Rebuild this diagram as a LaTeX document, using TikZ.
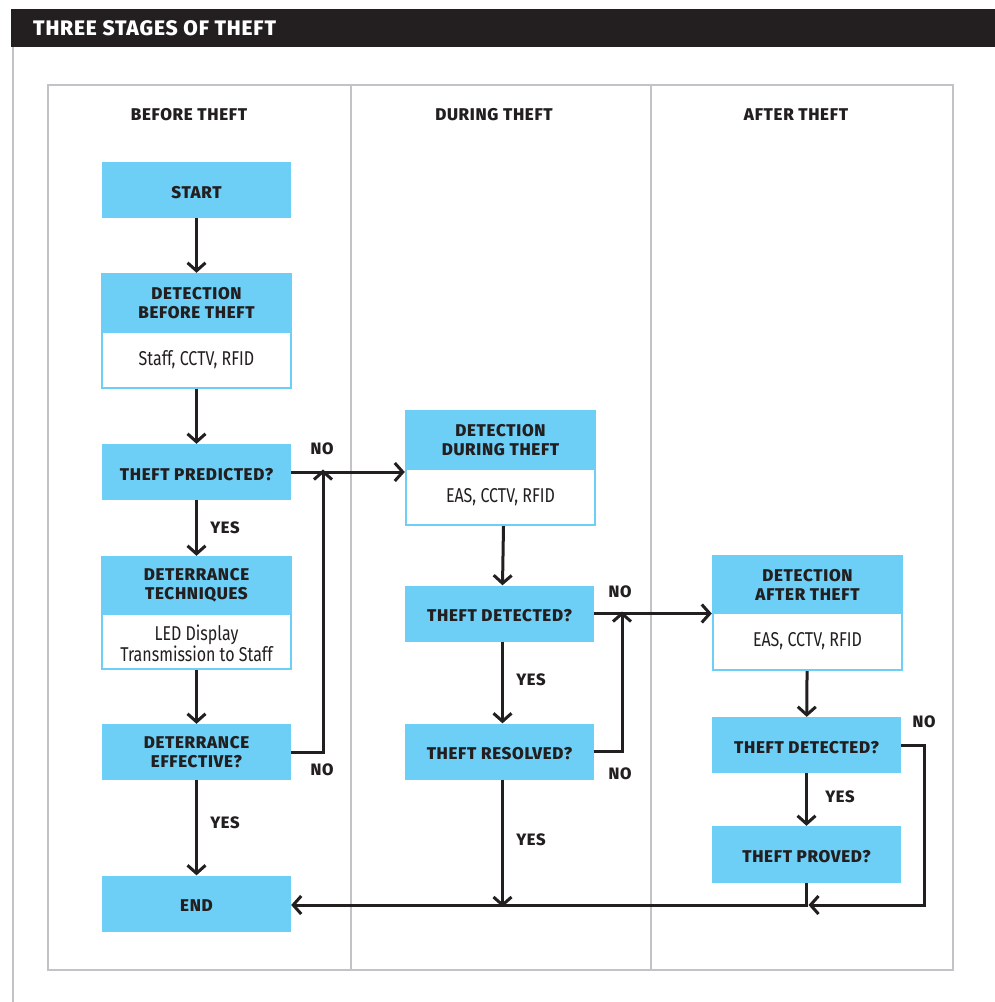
\documentclass[tikz,border=0pt]{standalone}
\usepackage{fontspec}
\setmainfont{Fira Sans}
\newfontfamily\lbf[LetterSpace=4]{Fira Sans ExtraBold}
\newfontfamily\cond[FakeStretch=0.8]{Fira Sans}
\usetikzlibrary{arrows.meta}
\definecolor{cy}{HTML}{6DCFF6}
\definecolor{ink}{HTML}{231F20}
\definecolor{framegray}{HTML}{C3C3C7}
\tikzset{
  box/.style={fill=cy, draw=none, minimum width=189, minimum height=56, inner sep=0pt,
    align=center, text=ink, font=\lbf\fontsize{17}{19}\selectfont},
  onebox/.style={box, text height=16.5pt, text depth=0pt},
  whitebox/.style={fill=white, draw=none, minimum width=187, minimum height=54, inner sep=0pt,
    align=center, text=ink},
  titletext/.style={inner sep=0pt, align=center, text=ink, font=\lbf\fontsize{17}{19}\selectfont},
  arr/.style={draw=ink, line width=3pt, -{Straight Barb[length=8pt,width=18pt]}},
  lbl/.style={inner sep=0pt, text=ink, font=\lbf\fontsize{16.5}{18}\selectfont},
  colhead/.style={inner sep=0pt, text=ink, font=\lbf\fontsize{17}{18}\selectfont},
  body/.style={font=\cond\fontsize{20}{21}\selectfont},
  bodytwo/.style={font=\cond\fontsize{20}{17.5}\selectfont},
}
\begin{document}
\begin{tikzpicture}[x=1pt,y=-1pt]
\useasboundingbox[fill=white] (0,0) rectangle (995,1002);
% header bar
\fill[ink] (11,9) rectangle (995,47);
\node[anchor=west, inner sep=0pt, text=white, font=\lbf\fontsize{21}{22}\selectfont] (title) at (33,28) {THREE STAGES OF THEFT};
% outer left line
\draw[framegray, line width=2.5pt] (13,47) -- (13,1002);
% inner frame
\draw[framegray, line width=2.5pt] (48,85) rectangle (953,970);
\draw[framegray, line width=2.5pt] (351,85) -- (351,970);
\draw[framegray, line width=2.5pt] (651,85) -- (651,970);
% column headers
\node[colhead] (h1) at (189,115) {BEFORE THEFT};
\node[colhead] (h2) at (494,115) {DURING THEFT};
\node[colhead] (h3) at (796,115) {AFTER THEFT};

% BEFORE column
\node[onebox] (start) at (196.5,190) {START};
\node[box, minimum width=191, minimum height=116] (dbt) at (196.5,331) {};
\node[whitebox, body] (dbtw) at (196.5,360) {Staff, CCTV, RFID};
\node[titletext] (dbtt) at (196.5,303) {DETECTION\\BEFORE THEFT};
\node[onebox] (tp) at (196.5,472) {THEFT PREDICTED?};
\node[box, minimum width=191, minimum height=114] (dt) at (196.5,613) {};
\node[whitebox, bodytwo, minimum height=53] (dtw) at (196.5,641.5) {};
\node[inner sep=0pt, bodytwo, align=center, text=ink] (dtwt) at (196.5,643) {LED Display\\Transmission to Staff};
\node[titletext] (dtt) at (196.5,585.5) {DETERRANCE\\TECHNIQUES};
\node[box] (de) at (196.5,752) {DETERRANCE\\EFFECTIVE?};
\node[onebox] (endn) at (196.5,903.5) {END};

% DURING column
\node[box, minimum width=191, minimum height=116] (ddt) at (500.5,468) {};
\node[whitebox, body] (ddtw) at (500.5,497) {EAS, CCTV, RFID};
\node[titletext] (ddtt) at (500.5,440) {DETECTION\\DURING THEFT};
\node[onebox] (td) at (499.5,613.5) {THEFT DETECTED?};
\node[onebox] (tr) at (499.5,751.5) {THEFT RESOLVED?};

% AFTER column
\node[box, minimum width=191, minimum height=116] (dat) at (807.5,613) {};
\node[whitebox, body, minimum height=55] (datw) at (807.5,641.5) {EAS, CCTV, RFID};
\node[titletext] (datt) at (807.5,584.5) {DETECTION\\AFTER THEFT};
\node[onebox] (tdb) at (806.5,745) {THEFT DETECTED?};
\node[onebox, minimum height=57] (tpb) at (806.5,854.5) {THEFT PROVED?};

% coordinates
\coordinate (j1) at (323,472);
\coordinate (j2) at (622,614);
\coordinate (jb) at (806.5,905);

% connectors BEFORE
\draw[arr] (start) -- (dbt);
\draw[arr] (dbt) -- (tp);
\draw[arr] (tp) -- (dt);
\draw[arr] (dt) -- (de);
\draw[arr] (de) -- (endn);
\draw[arr] (tp.east) -- (tp.east -| ddt.west);
\draw[arr] (de.east) -| ([yshift=2.5pt]j1);

% connectors DURING
\draw[arr] ([xshift=3pt]ddt.south) -- ([xshift=3pt]td.north);
\draw[arr] ([xshift=3pt]td.south) -- ([xshift=3pt]tr.north);
\draw[arr] (td.east) -- (td.east -| dat.west);
\draw[arr] (tr.east) -| ([yshift=2.5pt]j2);
\draw[arr] ([xshift=3pt]tr.south) -- ([xshift=3pt,yshift=-2pt]tr.south |- jb);

% connectors AFTER
\draw[arr] (dat) -- (tdb);
\draw[arr] (tdb) -- (tpb);
\draw[arr] (tdb.east) -- ++(23.5,0) |- ([xshift=2pt]jb);
\draw[arr] (tpb.south) |- (endn.east |- jb);

% labels
\node[lbl] (l1) at (322,449) {NO};
\node[lbl] (l2) at (322,770) {NO};
\node[lbl] (l3) at (225,528) {YES};
\node[lbl] (l4) at (225,823) {YES};
\node[lbl] (l5) at (531,680) {YES};
\node[lbl] (l6) at (620,592) {NO};
\node[lbl] (l7) at (620,774) {NO};
\node[lbl] (l8) at (531,840) {YES};
\node[lbl] (l9) at (924,722) {NO};
\node[lbl] (l10) at (840,797) {YES};
\end{tikzpicture}
\end{document}
